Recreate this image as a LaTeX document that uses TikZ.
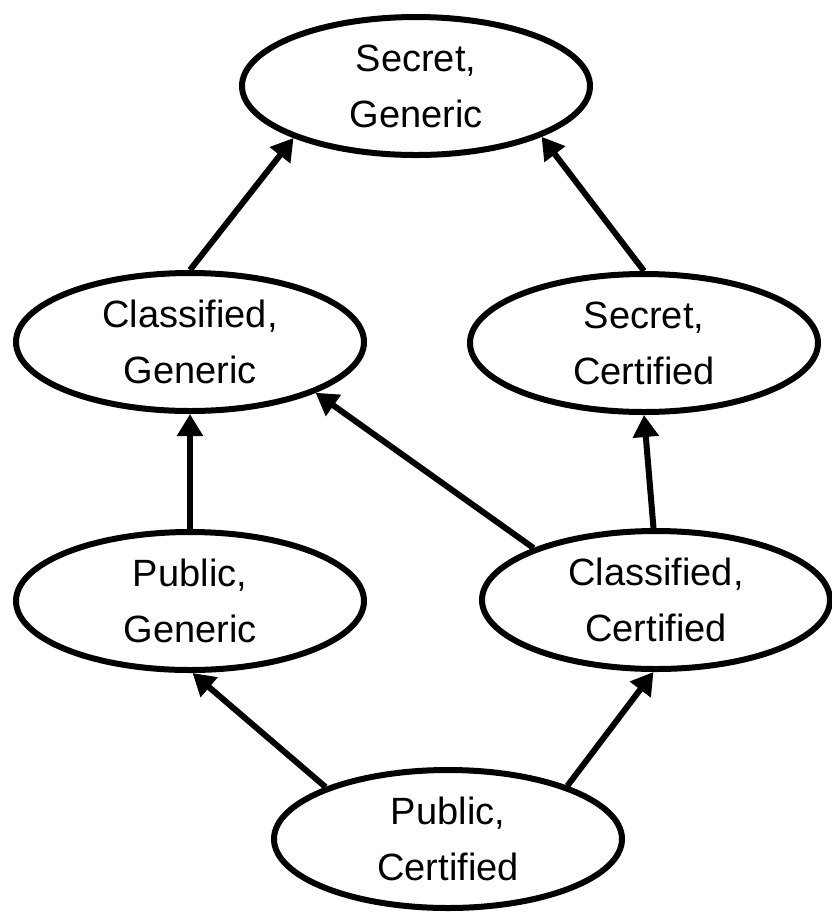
\documentclass[tikz,border=0pt]{standalone}
\usepackage{fontspec}
\setmainfont{Liberation Sans}
\usetikzlibrary{shapes.geometric,arrows.meta}
\tikzstyle{elem} = [draw, ellipse, line width=3pt, minimum width=174pt, minimum height=69pt, inner sep=0pt, align=center, font=\fontsize{19}{28}\selectfont]

\begin{document}
\begin{tikzpicture}[x=0.5pt, y=-0.5pt, >={Triangle[length=11pt, width=12.5pt]}, line width=3pt]
        \useasboundingbox (0,0) rectangle (832,918);
        \node[elem] (sg) at (416,86) {Secret,\\Generic};
        \node[elem] (cg) at (190,342) {Classified,\\Generic};
        \node[elem] (sc) at (644,343) {Secret,\\Certified};
        \node[elem] (pg) at (190,601) {Public,\\Generic};
        \node[elem] (cc) at (656,600) {Classified,\\Certified};
        \node[elem] (pc) at (448,839) {Public,\\Certified};
        \draw[->] (cg.90) -- (sg.203);
        \draw[->] (sc.90) -- (sg.-22);
        \draw[->] (pg.90) -- (cg.270);
        \draw[->] (cc.157) -- (cg.-22);
        \draw[->] (cc.92) -- (sc.270);
        \draw[->] (pc.157) -- (pg.-88);
        \draw[->] (pc.24) -- (cc.-92);
    \end{tikzpicture}
\end{document}
